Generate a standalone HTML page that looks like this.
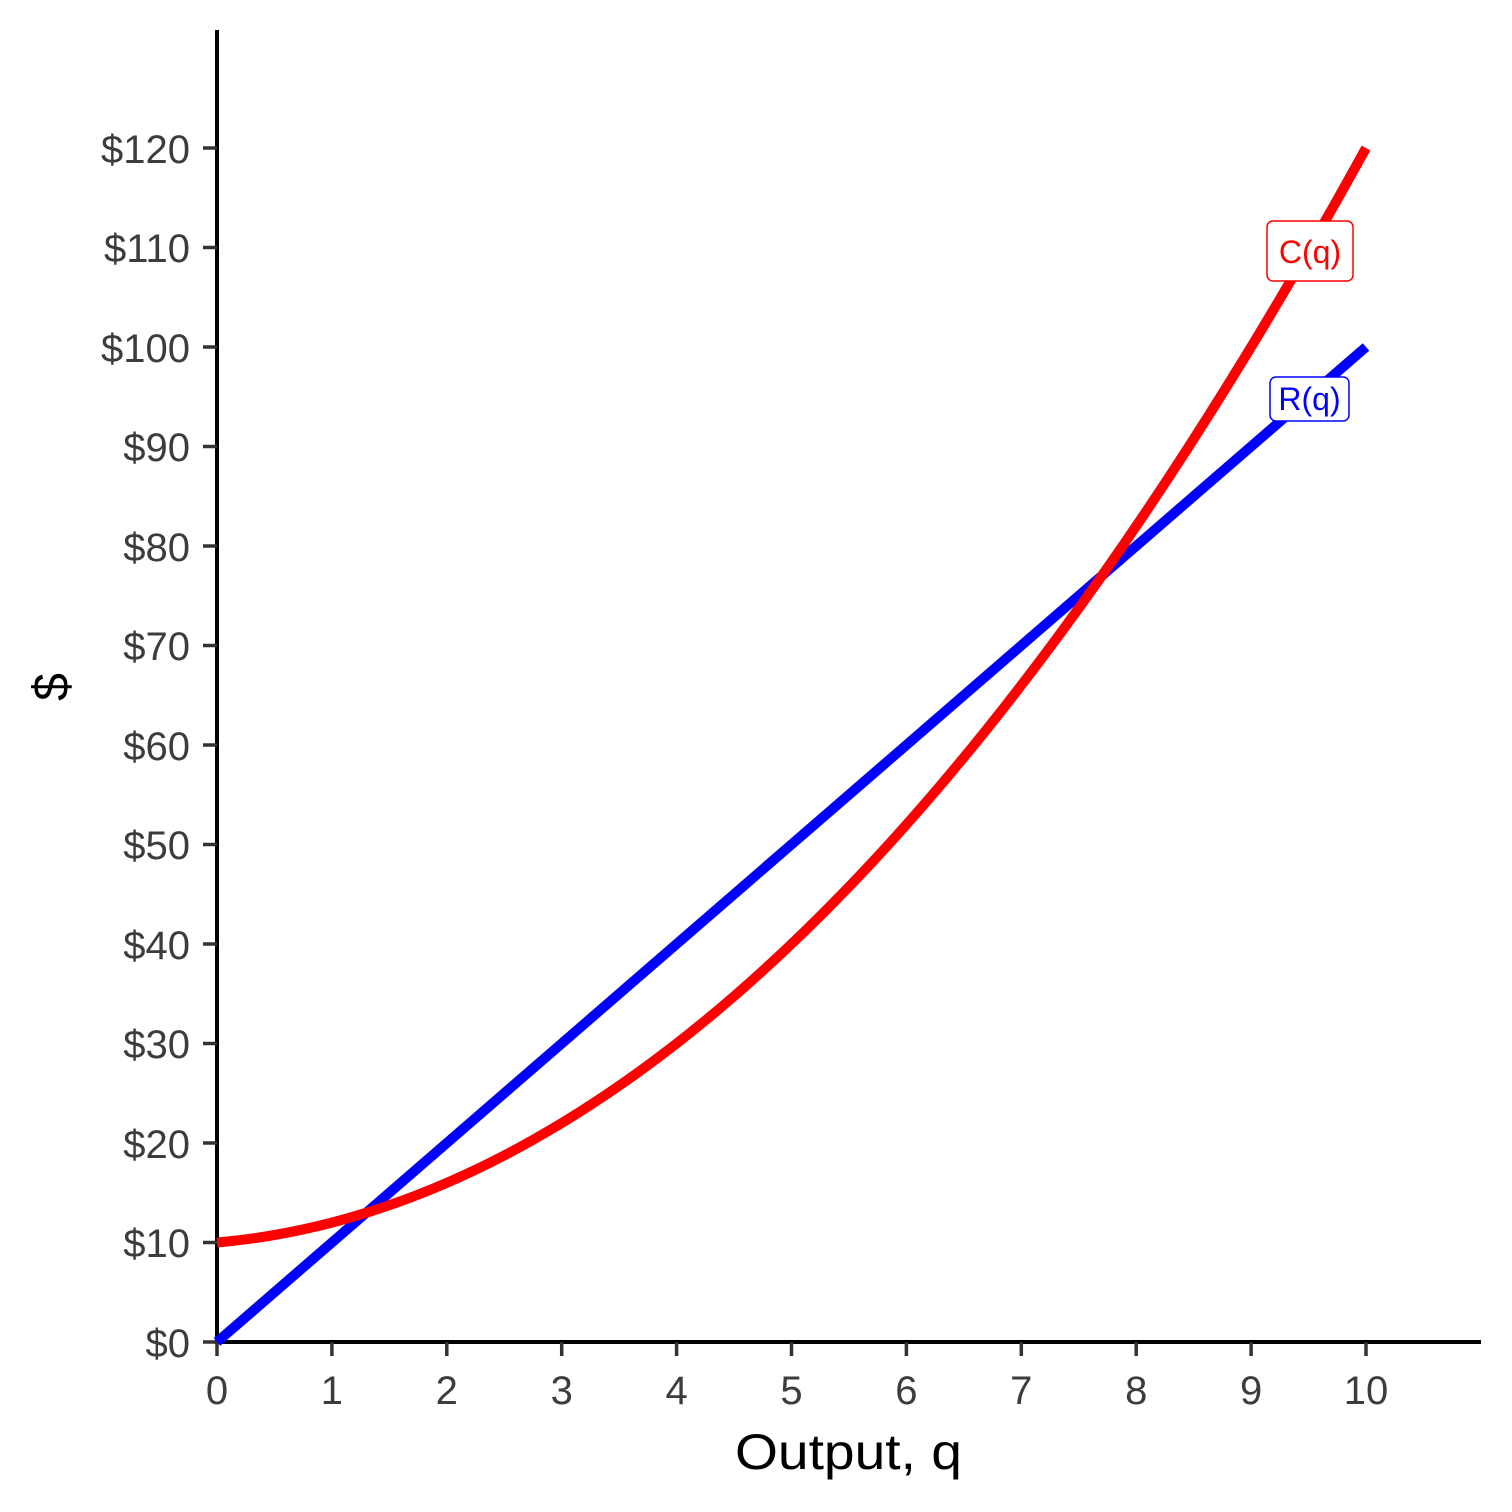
<!DOCTYPE html>
<html><head><meta charset="utf-8"><style>
html,body{margin:0;padding:0;background:#fff;}
svg{display:block;}
text{font-family:"Liberation Sans",sans-serif;}
</style></head><body>
<svg width="1512" height="1512" viewBox="0 0 1512 1512" xmlns="http://www.w3.org/2000/svg">
<rect width="1512" height="1512" fill="#fff"/>
<line x1="217" y1="30" x2="217" y2="1344" stroke="#000" stroke-width="4"/>
<line x1="215" y1="1342" x2="1481" y2="1342" stroke="#000" stroke-width="4"/>
<g stroke="#333" stroke-width="3.5">
<line x1="203" y1="1342" x2="217" y2="1342"/><line x1="203" y1="1242.5" x2="217" y2="1242.5"/>
<line x1="203" y1="1143" x2="217" y2="1143"/><line x1="203" y1="1043.5" x2="217" y2="1043.5"/>
<line x1="203" y1="944" x2="217" y2="944"/><line x1="203" y1="844.5" x2="217" y2="844.5"/>
<line x1="203" y1="745" x2="217" y2="745"/><line x1="203" y1="645.5" x2="217" y2="645.5"/>
<line x1="203" y1="546" x2="217" y2="546"/><line x1="203" y1="446.5" x2="217" y2="446.5"/>
<line x1="203" y1="347" x2="217" y2="347"/><line x1="203" y1="247.5" x2="217" y2="247.5"/>
<line x1="203" y1="148" x2="217" y2="148"/>
<line x1="217" y1="1342" x2="217" y2="1356"/><line x1="331.9" y1="1342" x2="331.9" y2="1356"/>
<line x1="446.8" y1="1342" x2="446.8" y2="1356"/><line x1="561.7" y1="1342" x2="561.7" y2="1356"/>
<line x1="676.6" y1="1342" x2="676.6" y2="1356"/><line x1="791.5" y1="1342" x2="791.5" y2="1356"/>
<line x1="906.4" y1="1342" x2="906.4" y2="1356"/><line x1="1021.3" y1="1342" x2="1021.3" y2="1356"/>
<line x1="1136.2" y1="1342" x2="1136.2" y2="1356"/><line x1="1251.1" y1="1342" x2="1251.1" y2="1356"/>
<line x1="1366" y1="1342" x2="1366" y2="1356"/>
</g>
<g fill="#3c3c3c" font-size="40" text-anchor="end">
<text x="190" y="1357">$0</text><text x="190" y="1257">$10</text><text x="190" y="1158">$20</text>
<text x="190" y="1058">$30</text><text x="190" y="959">$40</text><text x="190" y="859">$50</text>
<text x="190" y="760">$60</text><text x="190" y="660">$70</text><text x="190" y="561">$80</text>
<text x="190" y="461">$90</text><text x="190" y="362">$100</text><text x="190" y="262">$110</text>
<text x="190" y="163">$120</text>
</g>
<g fill="#3c3c3c" font-size="40" text-anchor="middle">
<text x="217" y="1404">0</text><text x="331.9" y="1404">1</text><text x="446.8" y="1404">2</text>
<text x="561.7" y="1404">3</text><text x="676.6" y="1404">4</text><text x="791.5" y="1404">5</text>
<text x="906.4" y="1404">6</text><text x="1021.3" y="1404">7</text><text x="1136.2" y="1404">8</text>
<text x="1251.1" y="1404">9</text><text x="1366" y="1404">10</text>
</g>
<text x="735" y="1469" font-size="50" textLength="227" lengthAdjust="spacingAndGlyphs" fill="#000">Output, q</text>
<text x="0" y="0" font-size="50" text-anchor="middle" fill="#000" transform="translate(68,687) rotate(-90)">$</text>
<line x1="217" y1="1342" x2="1366" y2="347" stroke="#0000ff" stroke-width="10"/>
<path d="M217,1242.5 Q791.5,1192.75 1366,148" fill="none" stroke="#ff0000" stroke-width="10"/>
<rect x="1267" y="221" width="86" height="60" rx="6" fill="#fff" stroke="#ff0000" stroke-width="1.5"/>
<text x="1310" y="263" font-size="32" text-anchor="middle" fill="#ff0000">C(q)</text>
<rect x="1270" y="377" width="79" height="44" rx="6" fill="#fff" stroke="#0000ff" stroke-width="1.5"/>
<text x="1309.5" y="410" font-size="32" text-anchor="middle" fill="#0000ff">R(q)</text>
</svg>
</body></html>
